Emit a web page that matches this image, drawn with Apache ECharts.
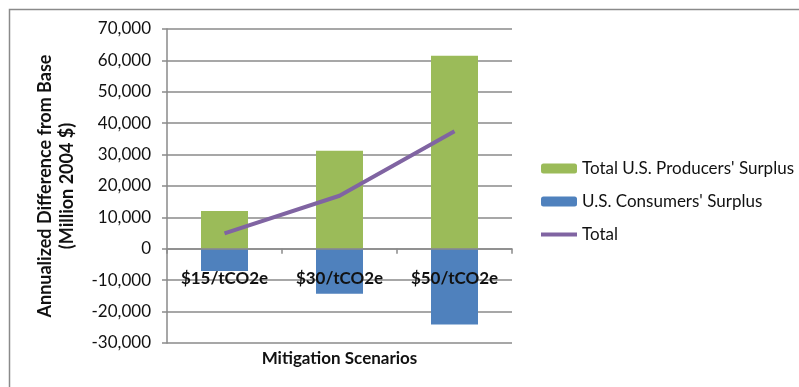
<!DOCTYPE html>
<html>
<head>
<meta charset="utf-8">
<script src="https://cdn.jsdelivr.net/npm/echarts@6/dist/echarts.min.js"></script>
<style>
	html, body { margin: 0; padding: 0; background: #fff; }
	#chart { width: 799px; height: 387px; }
</style>
</head>
<body>
<div id="chart"></div>
<script>
	var categories = ['$15/tCO2e', '$30/tCO2e', '$50/tCO2e'];
	var producers = [12000, 31200, 61500];
	var consumers = [-7100, -14300, -24100];
	var totals = [4900, 16900, 37400];
	var yTicks = { min: -30000, max: 70000, step: 10000 };

	var font = 'Lato, "Open Sans", sans-serif';
	var grey = '#8a8a8a';

	function fmt(v){
		return (v < 0 ? '-' : '') + Math.abs(v).toString().replace(/\B(?=(\d{3})+(?!\d))/g, ',');
	}

	var chart = echarts.init(document.getElementById('chart'));
	chart.setOption({
		animation: false,
		textStyle: { fontFamily: font, color: '#111' },
		graphic: [{
			type: 'rect',
			shape: { x: 9.5, y: 9.5, width: 1000, height: 1000 },
			style: { fill: 'none', stroke: grey, lineWidth: 1.5 }
		}],
		grid: { left: 167, right: 287, top: 29, bottom: 44, containLabel: false, outerBoundsMode: 'none' },
		legend: {
			orient: 'vertical',
			left: 534,
			top: 155,
			itemWidth: 36,
			itemHeight: 10,
			itemGap: 16,
			textStyle: { fontFamily: font, fontSize: 17, color: '#111' },
			data: [
				{ name: "Total U.S. Producers' Surplus" },
				{ name: "U.S. Consumers' Surplus" },
				{ name: 'Total', itemStyle: { color: 'transparent', borderColor: 'transparent' },
					lineStyle: { width: 4, color: '#8064A2' } }
			]
		},
		xAxis: {
			type: 'category',
			data: categories,
			z: 5,
			name: 'Mitigation Scenarios',
			nameLocation: 'middle',
			nameGap: 101,
			nameTextStyle: { fontFamily: font, fontSize: 17, fontWeight: 'bold', color: '#111' },
			axisLine: { onZero: false, lineStyle: { color: grey, width: 1.5 } },
			axisTick: { show: true, length: 5, lineStyle: { color: grey, width: 1.5 } },
			axisLabel: { margin: 21, fontFamily: font, fontSize: 17, fontWeight: 'bold', color: '#111' }
		},
		yAxis: {
			type: 'value',
			min: yTicks.min,
			max: yTicks.max,
			interval: yTicks.step,
			name: "Annualized Difference from Base\n(Million 2004 $)",
			nameLocation: 'middle',
			nameRotate: 90,
			nameGap: 89,
			nameTextStyle: { fontFamily: font, fontSize: 18, fontWeight: 'bold', color: '#111', lineHeight: 22 },
			axisLine: { show: true, lineStyle: { color: grey, width: 1.5 } },
			axisTick: { show: true, length: 5, lineStyle: { color: grey, width: 1.5 } },
			axisLabel: { margin: 16, fontFamily: font, fontSize: 17, color: '#111', formatter: fmt },
			splitLine: { show: true, lineStyle: { color: grey, width: 1.5 } }
		},
		series: [{
			name: "Total U.S. Producers' Surplus",
			type: 'bar',
			stack: 'surplus',
			barWidth: 47,
			itemStyle: { color: '#9BBB59' },
			data: producers
		}, {
			name: "U.S. Consumers' Surplus",
			type: 'bar',
			stack: 'surplus',
			barWidth: 47,
			itemStyle: { color: '#4F81BD' },
			data: consumers
		}, {
			name: 'Total',
			type: 'line',
			symbol: 'none',
			lineStyle: { color: '#8064A2', width: 4 },
			itemStyle: { color: '#8064A2' },
			data: totals
		}]
	});

	// move the category axis up to the zero line
	var zeroY = chart.convertToPixel({ yAxisIndex: 0 }, 0);
	var bottomY = chart.convertToPixel({ yAxisIndex: 0 }, yTicks.min);
	chart.setOption({ xAxis: { offset: zeroY - bottomY } });
</script>
</body>
</html>
